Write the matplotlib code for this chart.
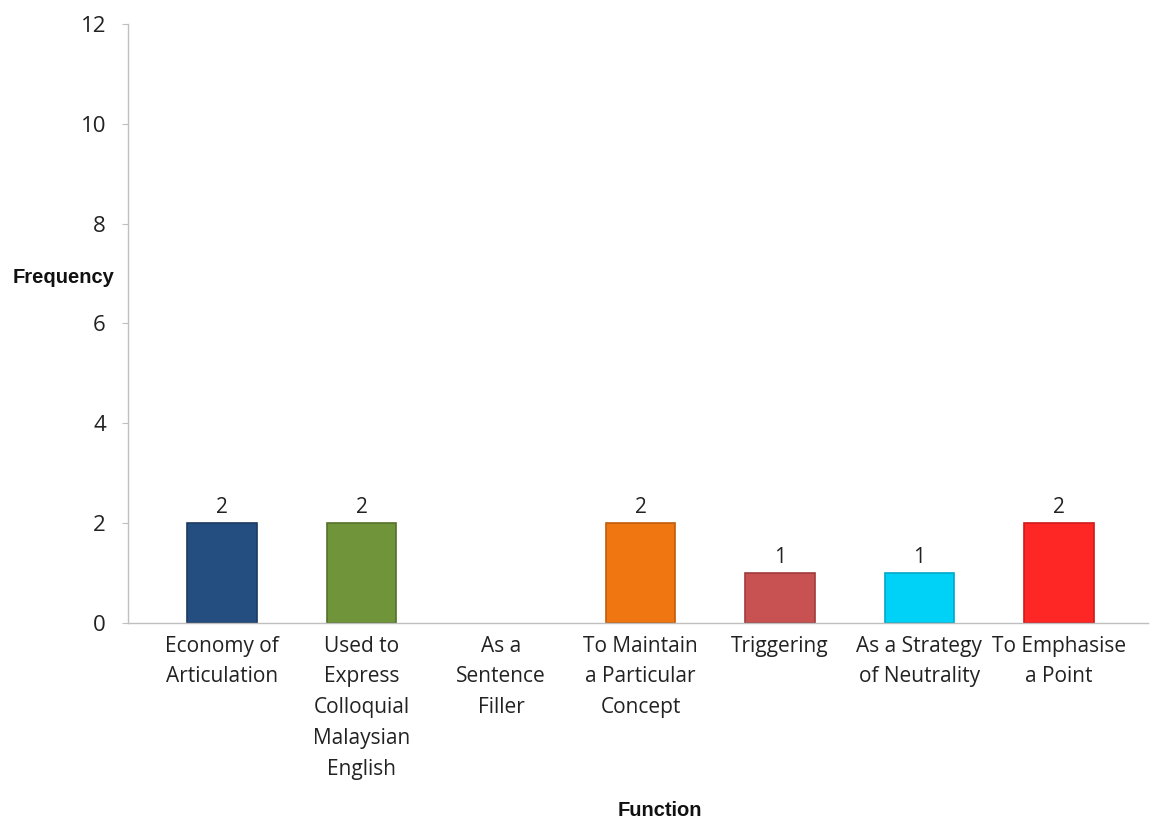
import matplotlib.pyplot as plt

categories = [
    "Economy of\nArticulation",
    "Used to\nExpress\nColloquial\nMalaysian\nEnglish",
    "As a\nSentence\nFiller",
    "To Maintain\na Particular\nConcept",
    "Triggering",
    "As a Strategy\nof Neutrality",
    "To Emphasise\na Point",
]
values = [2, 2, 0, 2, 1, 1, 2]
colors = ["#254e80", "#70943a", "#ffffff", "#f07612", "#c85252", "#00d2f7", "#ff2626"]
edge_colors = ["#1b3a60", "#55722a", "#ffffff", "#c05c0c", "#a03c3c", "#00a8c8", "#d01818"]
yticks = [0, 2, 4, 6, 8, 10, 12]

fig = plt.figure(figsize=(11.55, 8.23), dpi=100)
ax = fig.add_axes([0.111, 0.243, 0.883, 0.728])

x = list(range(len(categories)))
for i, (v, c, ec) in enumerate(zip(values, colors, edge_colors)):
    if v == 0:
        continue
    ax.bar(i, v, width=0.5, color=c, edgecolor=ec, linewidth=1.2, zorder=2)
    ax.text(i, v + 0.1, str(v), ha="center", va="bottom",
            fontsize=15, family="Open Sans", color="#222222")

ax.set_xlim(-0.674, 6.64)
ax.set_ylim(0, 12)
ax.set_yticks(yticks)
ax.set_yticklabels([str(t) for t in yticks], fontsize=16, family="Open Sans", color="#222222")
ax.set_xticks(x)
ax.set_xticklabels(categories, fontsize=15, family="Open Sans", color="#222222",
                   linespacing=1.62, va="top")
ax.tick_params(axis="x", length=0, pad=9)
ax.tick_params(axis="y", length=4, color="#bfbfbf", pad=12)

for side in ["top", "right"]:
    ax.spines[side].set_visible(False)
for side in ["left", "bottom"]:
    ax.spines[side].set_color("#bfbfbf")
    ax.spines[side].set_linewidth(1)

fig.text(0.011, 0.663, "Frequency", fontsize=14.5, fontweight="bold",
         family="Liberation Sans", ha="left", va="center", color="#111111")
fig.text(0.571, 0.004, "Function", fontsize=14.5, fontweight="bold",
         family="Liberation Sans", ha="center", va="bottom", color="#111111")

fig.savefig("out.png", dpi=100, facecolor="white")
